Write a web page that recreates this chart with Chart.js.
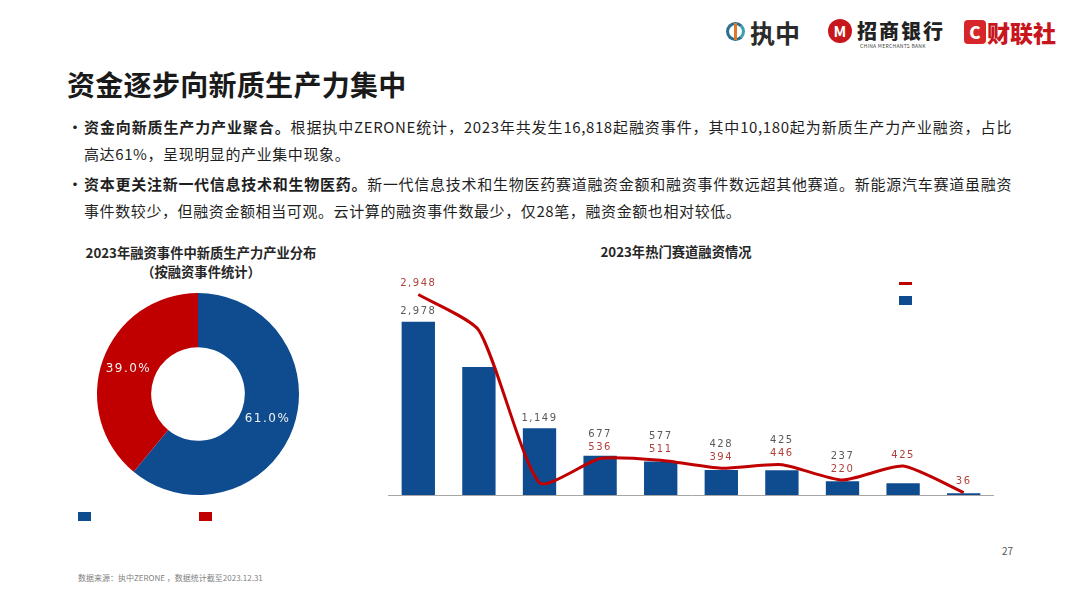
<!DOCTYPE html>
<html lang="zh-CN">
<head>
<meta charset="UTF-8">
<title>资金逐步向新质生产力集中</title>
<style>
  body { margin: 0; width: 1080px; height: 608px; background: #fff; position: relative; overflow: hidden;
         font-family: "Noto Sans CJK SC", "Noto Sans", sans-serif; color: #1f1f1f; }
  .abs { position: absolute; }
  .title { left: 67px; top: 64px; font-size: 28px; font-weight: 700; letter-spacing: 0.3px; color: #1a1a1a; }
  .line { left: 84px; font-size: 15px; letter-spacing: 0.6px; white-space: nowrap; line-height: 20px; }
  .line.full { width: 928px; text-align: justify; text-align-last: justify; }
  .line b { font-weight: 700; }
  .dot { left: 68px; font-size: 14px; font-weight: 700; }
  .ctitle { font-size: 13.3px; font-weight: 700; text-align: center; line-height: 19px; color: #262626; }
  .box { width: 13px; height: 9px; }
  .page { left: 1002px; top: 543px; font-size: 10px; color: #555; }
  .src { left: 78px; top: 572px; font-size: 8px; color: #7f7f7f; }
  .logo-zz { left: 726px; top: 22px; width: 19px; height: 19px; border-radius: 50%;
             border: 3px solid #2a6f8f; box-sizing: border-box; border-right-color: #3a9fb0; }
  .logo-zz::after { content: ""; position: absolute; left: 5px; top: -2px; width: 3px; height: 17px; background: #e07a2a; }
</style>
</head>
<body>
  <!-- header logos -->
  <div class="abs logo-zz"></div>
  <div class="abs" style="left:750px;top:14px;font-size:25px;font-weight:700;color:#2b2b2b;">执中</div>
  <div class="abs" style="left:828px;top:19px;width:24px;height:24px;border-radius:50%;background:#c8161d;color:#fff;font-size:15px;font-weight:700;text-align:center;line-height:24px;">M</div>
  <div class="abs" style="left:857px;top:16px;font-size:20px;font-weight:900;color:#222;letter-spacing:2px;">招商银行</div>
  <div class="abs" style="left:860px;top:42px;font-size:5px;color:#444;letter-spacing:0.3px;">CHINA MERCHANTS BANK</div>
  <div class="abs" style="left:964px;top:20px;width:22px;height:24px;border-radius:4px;background:#d7262a;color:#fff;font-size:17px;font-weight:900;text-align:center;line-height:24px;">C</div>
  <div class="abs" style="left:987px;top:15px;font-size:23px;font-weight:900;color:#c8161d;">财联社</div>

  <div class="abs title">资金逐步向新质生产力集中</div>

  <div class="abs dot" style="top:116px;">•</div>
  <div class="abs line full" style="top:117px;"><b>资金向新质生产力产业聚合。</b>根据执中ZERONE统计，2023年共发生16,818起融资事件，其中10,180起为新质生产力产业融资，占比</div>
  <div class="abs line" style="top:144px;">高达61%，呈现明显的产业集中现象。</div>
  <div class="abs dot" style="top:173px;">•</div>
  <div class="abs line full" style="top:174px;"><b>资本更关注新一代信息技术和生物医药。</b>新一代信息技术和生物医药赛道融资金额和融资事件数远超其他赛道。新能源汽车赛道虽融资</div>
  <div class="abs line" style="top:201px;">事件数较少，但融资金额相当可观。云计算的融资事件数最少，仅28笔，融资金额也相对较低。</div>

  <div class="abs ctitle" style="left:61px;top:243px;width:280px;">2023年融资事件中新质生产力产业分布<br>（按融资事件统计）</div>
  <div class="abs" style="left:88px;top:284px;width:220px;height:220px;"><canvas id="pie"></canvas></div>
  <div class="abs box" style="left:78px;top:512px;background:#0e4c8f;"></div>
  <div class="abs box" style="left:199px;top:512px;background:#c00000;"></div>

  <div class="abs ctitle" style="left:536px;top:242px;width:280px;">2023年热门赛道融资情况</div>
  <div class="abs" style="left:388px;top:274px;width:606px;height:229px;"><canvas id="combo"></canvas></div>
  <div class="abs" style="left:899px;top:282px;width:13px;height:3px;background:#c00000;"></div>
  <div class="abs box" style="left:899px;top:296px;height:9px;background:#0e4c8f;"></div>

  <div class="abs page">27</div>
  <div class="abs src">数据来源：执中ZERONE ，数据统计截至2023.12.31</div>

<script src="https://cdn.jsdelivr.net/npm/chart.js"></script>
<script>
  // donut: share of financing events
  const shareLabels = ['新质生产力产业', '其他产业'];
  const shareValues = [61.0, 39.0];

  // hot tracks 2023
  const tracks = ['新一代信息技术', '生物医药', '高端装备制造', '新材料', '新能源', '节能环保', '人工智能', '数字创意', '新能源汽车', '云计算'];
  const eventCounts = [2978, 2200, 1149, 677, 577, 428, 425, 237, 200, 28];
  const amounts = [2948, 2420, 180, 536, 511, 394, 446, 220, 425, 36];
  const hiddenBarLabels = [1, 8, 9];
  const hiddenLineLabels = [1, 2];

  const BLUE = '#0e4c8f';
  const RED = '#c00000';

  const fmt = v => v.toLocaleString('en-US');

  // percentage labels inside the ring
  const pieLabels = {
    id: 'pieLabels',
    afterDatasetsDraw(chart) {
      const ctx = chart.ctx;
      ctx.save();
      ctx.font = '12px "DejaVu Sans"';
      ctx.letterSpacing = '1.5px';
      ctx.fillStyle = '#f2f2f2';
      ctx.textAlign = 'center';
      ctx.textBaseline = 'middle';
      chart.getDatasetMeta(0).data.forEach((arc, i) => {
        const p = arc.tooltipPosition();
        ctx.fillText(shareValues[i].toFixed(1) + '%', p.x, p.y);
      });
      ctx.restore();
    }
  };

  new Chart(document.getElementById('pie'), {
    type: 'doughnut',
    data: {
      labels: shareLabels,
      datasets: [{ data: shareValues, backgroundColor: [BLUE, RED], borderWidth: 0 }]
    },
    options: {
      responsive: true,
      maintainAspectRatio: false,
      animation: false,
      radius: 101,
      cutout: 51,
      plugins: { legend: { display: false }, tooltip: { enabled: false } }
    },
    plugins: [pieLabels]
  });

  // value labels above bars and line points
  const valueLabels = {
    id: 'valueLabels',
    afterDatasetsDraw(chart) {
      const ctx = chart.ctx;
      const bars = chart.getDatasetMeta(0).data;
      const pts = chart.getDatasetMeta(1).data;
      ctx.save();
      ctx.font = '10px "DejaVu Sans"';
      ctx.letterSpacing = '1.5px';
      ctx.textAlign = 'center';
      ctx.textBaseline = 'middle';
      bars.forEach((bar, i) => {
        const redY = pts[i].y - 11;
        let greyY = bar.y - 10;
        if (Math.abs(bar.y - pts[i].y) < 20) greyY = Math.min(greyY, redY - 13);
        if (!hiddenLineLabels.includes(i)) {
          ctx.fillStyle = '#b0403a';
          ctx.fillText(fmt(amounts[i]), pts[i].x, redY);
        }
        if (!hiddenBarLabels.includes(i)) {
          ctx.fillStyle = '#595959';
          ctx.fillText(fmt(eventCounts[i]), bar.x, greyY);
        }
      });
      ctx.restore();
    }
  };

  new Chart(document.getElementById('combo'), {
    data: {
      labels: tracks,
      datasets: [
        {
          type: 'bar',
          label: '融资事件数',
          data: eventCounts,
          backgroundColor: BLUE,
          barPercentage: 0.55,
          categoryPercentage: 1,
          yAxisID: 'y',
          order: 1
        },
        {
          type: 'line',
          label: '融资金额',
          data: amounts,
          borderColor: RED,
          borderWidth: 3,
          pointRadius: 0,
          tension: 0.2,
          yAxisID: 'y1',
          order: 0
        }
      ]
    },
    options: {
      responsive: true,
      maintainAspectRatio: false,
      animation: false,
      layout: { padding: 0 },
      scales: {
        x: {
          grid: { display: false },
          ticks: { display: false },
          border: { color: '#a6a6a6', width: 1 }
        },
        y: { display: false, min: 0, max: 3800 },
        y1: { display: false, min: 0, max: 3250, position: 'right' }
      },
      plugins: { legend: { display: false }, tooltip: { enabled: false } }
    },
    plugins: [valueLabels]
  });
</script>
</body>
</html>
